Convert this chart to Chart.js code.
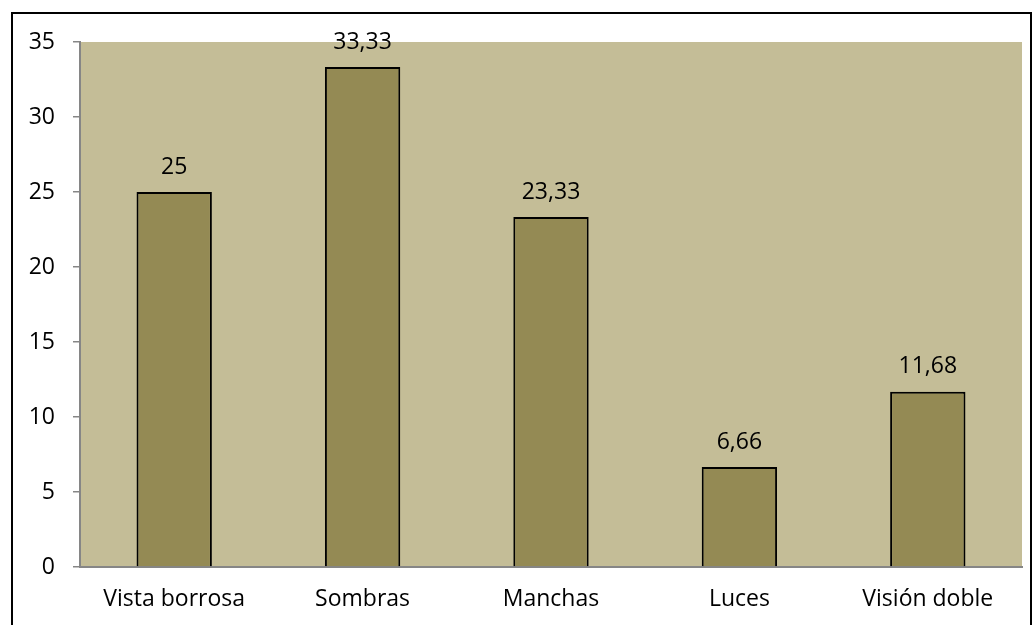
<!DOCTYPE html>
<html>
<head>
<meta charset="utf-8">
<script src="https://cdn.jsdelivr.net/npm/chart.js@4"></script>
<style>
    body { margin: 0; background: #fff; }
    #wrap { position: relative; width: 1036px; height: 625px; }
    #frame {
        position: absolute; left: 11px; top: 12px; width: 1021px; height: 620px;
        border: 2px solid #000; box-sizing: border-box; pointer-events: none;
    }
</style>
</head>
<body>
<div id="wrap">
    <canvas id="chart" width="1036" height="625"></canvas>
    <div id="frame"></div>
</div>
<script>
const categories = ['Vista borrosa', 'Sombras', 'Manchas', 'Luces', 'Visión doble'];
const values = [25, 33.33, 23.33, 6.66, 11.68];
const valueLabels = ['25', '33,33', '23,33', '6,66', '11,68'];

const fontFamily = '"Open Sans", "Noto Sans", sans-serif';
const fontSize = 23;

// tan fill behind the plot area
const plotBackground = {
    id: 'plotBackground',
    beforeDraw(chart) {
        const { ctx, chartArea } = chart;
        ctx.save();
        ctx.fillStyle = '#C4BD97';
        ctx.fillRect(chartArea.left, chartArea.top, chartArea.right - chartArea.left, chartArea.bottom - chartArea.top);
        ctx.restore();
    }
};

// value text above each bar
const barValues = {
    id: 'barValues',
    afterDatasetsDraw(chart) {
        const { ctx } = chart;
        const meta = chart.getDatasetMeta(0);
        ctx.save();
        ctx.font = fontSize + 'px ' + fontFamily;
        ctx.fillStyle = '#000';
        ctx.textAlign = 'center';
        ctx.textBaseline = 'middle';
        meta.data.forEach((bar, i) => {
            ctx.fillText(valueLabels[i], bar.x, bar.y - 25);
        });
        ctx.restore();
    }
};

new Chart(document.getElementById('chart'), {
    type: 'bar',
    data: {
        labels: categories,
        datasets: [{
            data: values,
            backgroundColor: '#948A54',
            borderColor: '#000',
            borderWidth: 2,
            categoryPercentage: 0.8,
            barPercentage: 0.5
        }]
    },
    options: {
        responsive: false,
        animation: false,
        layout: { padding: { left: 0, right: 14, top: 42, bottom: 0 } },
        plugins: {
            legend: { display: false },
            tooltip: { enabled: false }
        },
        scales: {
            x: {
                afterFit: (scale) => { scale.height = 58; },
                grid: { drawOnChartArea: false, drawTicks: false, color: '#868686' },
                border: { display: true, color: '#868686', width: 2 },
                ticks: { color: '#000', padding: 19, font: { size: fontSize, family: fontFamily } }
            },
            y: {
                min: 0,
                max: 35,
                afterFit: (scale) => { scale.width = 80; },
                grid: { drawOnChartArea: false, drawTicks: true, tickLength: 7, color: '#868686', lineWidth: 1.5 },
                border: { display: true, color: '#868686', width: 2 },
                ticks: { stepSize: 5, color: '#000', padding: 18, font: { size: fontSize, family: fontFamily } }
            }
        }
    },
    plugins: [plotBackground, barValues]
});
</script>
</body>
</html>
